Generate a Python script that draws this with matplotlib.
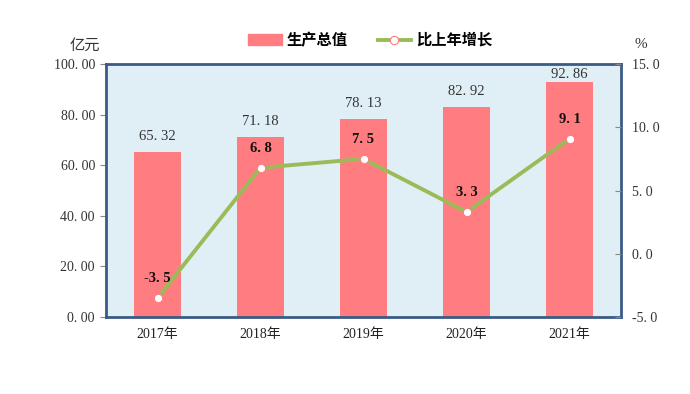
import matplotlib
matplotlib.use("Agg")
import matplotlib.pyplot as plt
from matplotlib.lines import Line2D
from matplotlib.patches import Patch

years = ["2017年", "2018年", "2019年", "2020年", "2021年"]
output_values = [65.32, 71.18, 78.13, 82.92, 92.86]
growth_rates = [-3.5, 6.8, 7.5, 3.3, 9.1]
left_ticks = [0, 20, 40, 60, 80, 100]
right_ticks = [-5, 0, 5, 10, 15]

plt.rcParams['font.family'] = ['Liberation Serif', 'Noto Sans CJK SC', 'DejaVu Sans']

W, H = 690, 394
fig = plt.figure(figsize=(W/100, H/100), dpi=100)
ax = fig.add_axes([106/W, 1-317/H, (621-106)/W, (317-64)/H])
ax.set_facecolor('#e0eff5')
for s in ax.spines.values():
    s.set_color('#3b5b86')
    s.set_linewidth(2)

x = list(range(len(years)))
ax.bar(x, output_values, width=0.465, color='#ff7c80', zorder=2)
ax.set_xlim(-0.5, len(years)-0.5)
ax.set_ylim(0, 100)
ax.set_yticks(left_ticks)
ax.set_yticklabels([f"{v:.2f}".replace('.', '. ') for v in left_ticks], fontsize=10, color='#333333')
ax.set_xticks(x)
ax.set_xticklabels(years, fontsize=10, color='#222222')
ax.tick_params(axis='x', length=0, pad=8)
ax.tick_params(axis='y', length=4, direction='out', color='#888888', pad=4)
for xi, v in zip(x, output_values):
    ax.text(xi, min(v + 3.5, 93.2), f"{v:.2f}".replace('.', '. '), ha='center', va='bottom', fontsize=10.5, color='#333333')

ax2 = ax.twinx()
ax2.set_ylim(-5, 15)
ax2.set_yticks(right_ticks)
ax2.set_yticklabels([f"{v:.1f}".replace('.', '. ') for v in right_ticks], fontsize=10, color='#333333')
ax2.tick_params(axis='y', length=4, direction='in', color='#888888', pad=8)
for s in ax2.spines.values():
    s.set_visible(False)
ax2.plot(x, growth_rates, color='#9bbb59', lw=2.8, marker='o', ms=6,
         mfc='white', mec='#ff7c80', mew=0.8, zorder=3)
for xi, v in zip(x, growth_rates):
    ax2.text(xi, v + 1.0, f"{v:.1f}".replace('.', '. '), ha='center', va='bottom', fontsize=10.5, color='#111111', fontweight='bold')

fig.text(85/W, 1-45/H, "亿元", ha='center', va='center', fontsize=11, family=['Noto Sans CJK SC'], color='#333333')
fig.text(641/W, 1-45/H, "%", ha='center', va='center', fontsize=11, color='#333333')

handles = [Patch(color='#ff7c80'),
           Line2D([0], [0], color='#9bbb59', lw=2.8, marker='o', ms=6, mfc='white', mec='#ff7c80', mew=0.8)]
fig.legend(handles, ["生产总值", "比上年增长"], loc='center', bbox_to_anchor=(370/W, 1-40/H),
           ncol=2, frameon=False, prop={'family': 'Noto Sans CJK SC', 'size': 11, 'weight': 'bold'},
           handlelength=2.2, handletextpad=0.3, columnspacing=2.0)

fig.savefig('out.png', dpi=100, facecolor='white')
